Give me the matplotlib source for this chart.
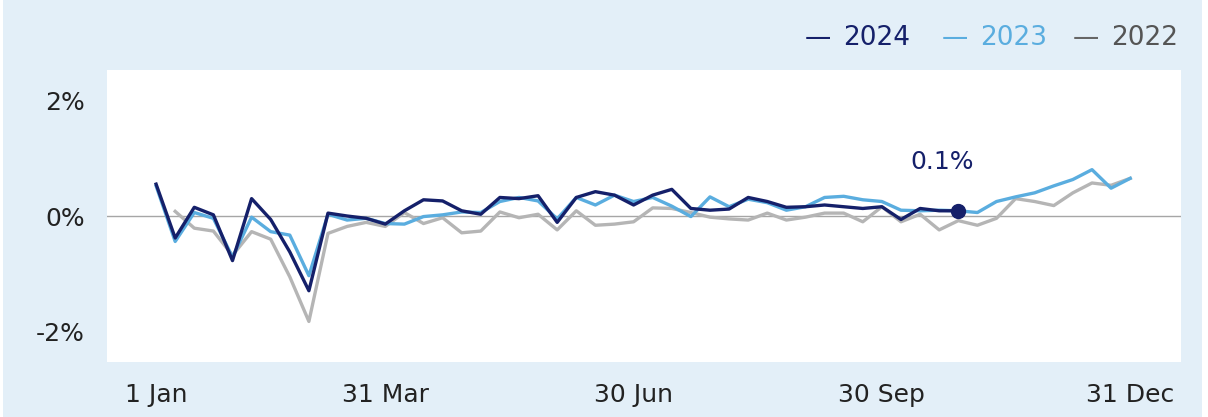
import numpy as np
import matplotlib
matplotlib.use("Agg")
import matplotlib.pyplot as plt
from matplotlib.patches import Rectangle

# weekly values, % (week index 0..51)
y2024 = [0.55, -0.38, 0.15, 0.02, -0.77, 0.30, -0.06, -0.62, -1.29, 0.05,
         0.00, -0.04, -0.14, 0.09, 0.28, 0.26, 0.09, 0.03, 0.32, 0.30,
         0.35, -0.11, 0.32, 0.42, 0.36, 0.19, 0.36, 0.46, 0.13, 0.10,
         0.12, 0.32, 0.25, 0.15, 0.16, 0.19, 0.16, 0.13, 0.16, -0.06,
         0.13, 0.09, 0.09]
y2023 = [0.52, -0.44, 0.06, -0.04, -0.71, -0.02, -0.27, -0.33, -1.03, 0.03,
         -0.07, -0.04, -0.13, -0.14, -0.01, 0.02, 0.07, 0.06, 0.25, 0.32,
         0.26, -0.05, 0.32, 0.19, 0.36, 0.25, 0.32, 0.17, -0.01, 0.33,
         0.16, 0.29, 0.23, 0.10, 0.16, 0.32, 0.34, 0.28, 0.25, 0.10,
         0.09, 0.10, 0.09, 0.06, 0.25, 0.33, 0.40, 0.52, 0.63, 0.80,
         0.48, 0.65]
y2022 = [np.nan, 0.08, -0.21, -0.26, -0.68, -0.27, -0.40, -1.05, -1.82, -0.30,
         -0.18, -0.11, -0.18, 0.06, -0.13, -0.03, -0.29, -0.26, 0.07, -0.03,
         0.03, -0.24, 0.09, -0.16, -0.14, -0.10, 0.14, 0.13, 0.06, -0.02,
         -0.05, -0.07, 0.05, -0.07, -0.02, 0.05, 0.05, -0.10, 0.16, -0.10,
         0.03, -0.24, -0.08, -0.16, -0.04, 0.30, 0.25, 0.18, 0.40, 0.57,
         0.53, 0.65]
tick_pos = [0, 12, 25, 38, 51]
tick_labels = ["1 Jan", "31 Mar", "30 Jun", "30 Sep", "31 Dec"]

navy = "#15206a"
light = "#5aaddf"
grey = "#b5b5b5"
bg = "#e3eff8"

W, H = 1208, 417
fig = plt.figure(figsize=(W / 100, H / 100), dpi=100, facecolor="white")
fig.patches.append(Rectangle((3 / W, 0), 1199 / W, 1, transform=fig.transFigure,
                             facecolor=bg, edgecolor="none", zorder=-10))
ax = fig.add_axes([107 / W, 1 - 362 / H, (1181 - 107) / W, (362 - 70) / H])
ax.set_facecolor("white")

ax.axhline(0, color="#a6a6a6", lw=1, zorder=1)
ax.plot(np.arange(len(y2022)), y2022, color=grey, lw=2.4, zorder=2)
ax.plot(np.arange(len(y2023)), y2023, color=light, lw=2.4, zorder=3)
ax.plot(np.arange(len(y2024)), y2024, color=navy, lw=2.4, zorder=4)

last = len(y2024) - 1
ax.plot(last, y2024[-1], "o", color=navy, ms=10, zorder=5)
ax.annotate(f"{y2024[-1]:.1f}%", (last, y2024[-1]), xytext=(-12, 35),
            textcoords="offset points", ha="center", va="center",
            color=navy, fontsize=18)

ax.set_xlim(-2.57, 53.66)
ax.set_ylim(-2.52, 2.52)
ax.set_yticks([-2, 0, 2])
ax.set_yticklabels(["-2%", "0%", "2%"])
ax.set_xticks(tick_pos)
ax.set_xticklabels(tick_labels)
ax.tick_params(length=0, labelsize=18, colors="#222222")
ax.tick_params(axis="y", pad=16)
ax.tick_params(axis="x", pad=15)
for s in ax.spines.values():
    s.set_visible(False)

# legend as coloured text
for x, lab, c, tc in [(805, "2024", navy, navy), (942, "2023", light, light),
                      (1073, "2022", "#666666", "#555555")]:
    fig.text(x / W, 1 - 38 / H, "—", color=c, fontsize=19, va="center", ha="left")
    fig.text((x + 38) / W, 1 - 38 / H, lab, color=tc, fontsize=19, va="center", ha="left")

fig.savefig("out.png", dpi=100, facecolor=fig.get_facecolor())
